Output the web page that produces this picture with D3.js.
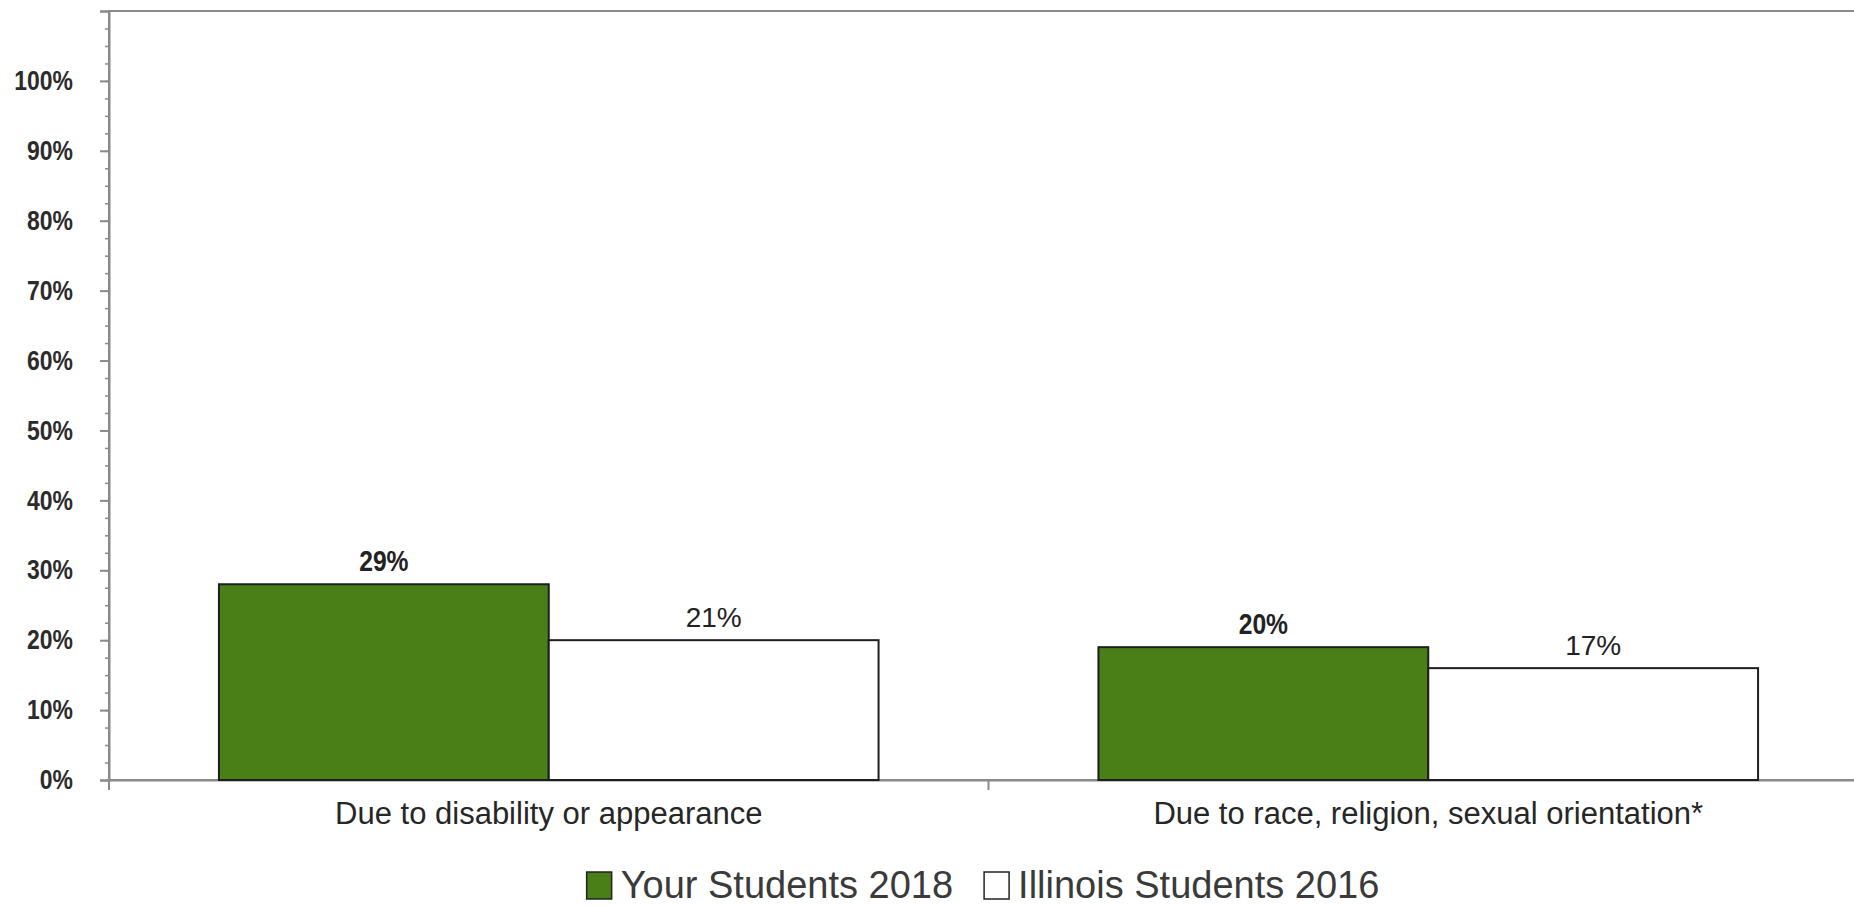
<!DOCTYPE html>
<html>
<head>
<meta charset="utf-8">
<script src="https://cdn.jsdelivr.net/npm/d3@7"></script>
<style>
  body { margin: 0; background: #fff; }
  svg { display: block; }
</style>
</head>
<body>
<div id="chart-area"></div>
<script>
// Data
var categories = ['Due to disability or appearance', 'Due to race, religion, sexual orientation*'];
var seriesNames = ['Your Students 2018', 'Illinois Students 2016'];
var yourStudents = [28, 19];
var illinoisStudents = [20, 16];
var yourLabels = ['29%', '20%'];
var illinoisLabels = ['21%', '17%'];
var yTicks = [0, 10, 20, 30, 40, 50, 60, 70, 80, 90, 100, 110];
var yTickLabels = ['0%', '10%', '20%', '30%', '40%', '50%', '60%', '70%', '80%', '90%', '100%', ''];

var W = 1854, H = 906;
var margin = {left: 109, top: 11, bottom: 126};
var plotW = 1759; // plot runs past the right edge of the picture
var height = H - margin.top - margin.bottom;

var green = '#4a7f18';
var axisGrey = '#8a8a8a';
var narrow = 0.85; // squeeze for the narrow bold labels

var svg = d3.select('#chart-area')
    .append('svg')
        .attr('width', W)
        .attr('height', H);

var g = svg.append('g')
    .attr('transform', 'translate(' + margin.left + ',' + margin.top + ')');

// Scales
var y = d3.scaleLinear()
    .domain([0, 110])
    .range([height, 0]);

var x0 = d3.scaleBand()
    .domain(categories)
    .range([0, plotW])
    .padding(0);

var x1 = d3.scaleBand()
    .domain(seriesNames)
    .range([0, x0.bandwidth()])
    .paddingInner(0)
    .paddingOuter(1 / 3);

// plot frame
g.append('rect')
    .attr('x', 0)
    .attr('y', 0)
    .attr('width', plotW)
    .attr('height', height)
    .attr('fill', 'none')
    .attr('stroke', axisGrey)
    .attr('stroke-width', 2);

// minor ticks
var minor = d3.range(0, 110.01, 2.5);
g.append('g')
    .attr('class', 'y minor')
    .call(d3.axisLeft(y).tickValues(minor).tickSize(4).tickFormat(''))
    .call(function(s){
        s.select('.domain').remove();
        s.selectAll('line').attr('stroke', axisGrey).attr('stroke-width', 1.5);
    });

// Y Axis
var yAxisCall = d3.axisLeft(y)
    .tickValues(yTicks)
    .tickSize(9)
    .tickPadding(27)
    .tickFormat(function(d, i){ return yTickLabels[i]; });
g.append('g')
    .attr('class', 'y axis')
    .call(yAxisCall)
    .call(function(s){
        s.select('.domain').attr('stroke', axisGrey).attr('stroke-width', 2);
        s.selectAll('line').attr('stroke', axisGrey).attr('stroke-width', 2);
        s.selectAll('text')
            .attr('font-family', '"Liberation Sans", Arial, sans-serif')
            .attr('font-weight', 'bold')
            .attr('font-size', '27px')
            .attr('fill', '#2b2b2b')
            .attr('x', -36 / narrow)
            .attr('transform', 'scale(' + narrow + ',1)');
    });

// X Axis: labels only, boundary ticks drawn below
var xAxisCall = d3.axisBottom(x0).tickSize(0).tickPadding(22);
g.append('g')
    .attr('class', 'x axis')
    .attr('transform', 'translate(0,' + height + ')')
    .call(xAxisCall)
    .call(function(s){
        s.select('.domain').attr('stroke', axisGrey).attr('stroke-width', 2);
        s.selectAll('text')
            .attr('font-family', '"Liberation Sans", Arial, sans-serif')
            .attr('font-size', '31px')
            .attr('fill', '#262626');
    });

g.selectAll('.bound')
    .data(categories)
    .enter()
    .append('line')
        .attr('class', 'bound')
        .attr('x1', function(d){ return x0(d); })
        .attr('x2', function(d){ return x0(d); })
        .attr('y1', height)
        .attr('y2', height + 10)
        .attr('stroke', axisGrey)
        .attr('stroke-width', 2);

// bars
var rows = categories.map(function(c, i){
    return [
        {cat: c, s: seriesNames[0], v: yourStudents[i], label: yourLabels[i]},
        {cat: c, s: seriesNames[1], v: illinoisStudents[i], label: illinoisLabels[i]}
    ];
});

var groups = g.selectAll('.grp')
    .data(rows)
    .enter()
    .append('g')
        .attr('class', 'grp')
        .attr('transform', function(d){ return 'translate(' + x0(d[0].cat) + ',0)'; });

groups.selectAll('rect')
    .data(function(d){ return d; })
    .enter()
    .append('rect')
        .attr('x', function(d){ return x1(d.s); })
        .attr('y', function(d){ return y(d.v); })
        .attr('width', x1.bandwidth())
        .attr('height', function(d){ return height - y(d.v); })
        .attr('fill', function(d, i){ return i === 0 ? green : '#ffffff'; })
        .attr('stroke', '#1e1e1e')
        .attr('stroke-width', 2);

groups.selectAll('.val')
    .data(function(d){ return d; })
    .enter()
    .append('text')
        .attr('class', 'val')
        .attr('x', function(d, i){
            var cx = x1(d.s) + x1.bandwidth() / 2;
            return i === 0 ? cx / narrow : cx;
        })
        .attr('y', function(d){ return y(d.v) - 13; })
        .attr('transform', function(d, i){ return i === 0 ? 'scale(' + narrow + ',1)' : null; })
        .attr('text-anchor', 'middle')
        .attr('font-family', '"Liberation Sans", Arial, sans-serif')
        .attr('font-weight', function(d, i){ return i === 0 ? 'bold' : 'normal'; })
        .attr('font-size', function(d, i){ return i === 0 ? '29px' : '28px'; })
        .attr('fill', '#222')
        .text(function(d){ return d.label; });

// Legend
var legend = svg.append('g').attr('class', 'legend');
var lx = 0;
seriesNames.forEach(function(name, i){
    var item = legend.append('g').attr('transform', 'translate(' + lx + ',0)');
    item.append('rect')
        .attr('x', 0)
        .attr('y', -26)
        .attr('width', 25)
        .attr('height', 27)
        .attr('fill', i === 0 ? green : '#fff')
        .attr('stroke', '#222')
        .attr('stroke-width', 1.5);
    var t = item.append('text')
        .attr('x', 34)
        .attr('y', 0)
        .attr('font-family', '"Liberation Sans", Arial, sans-serif')
        .attr('font-size', '38px')
        .attr('fill', '#3a3a3a')
        .text(name);
    lx += 34 + t.node().getComputedTextLength() + 31;
});
var legW = lx - 31;
legend.attr('transform', 'translate(' + (983 - legW / 2) + ',898)');
</script>
</body>
</html>
